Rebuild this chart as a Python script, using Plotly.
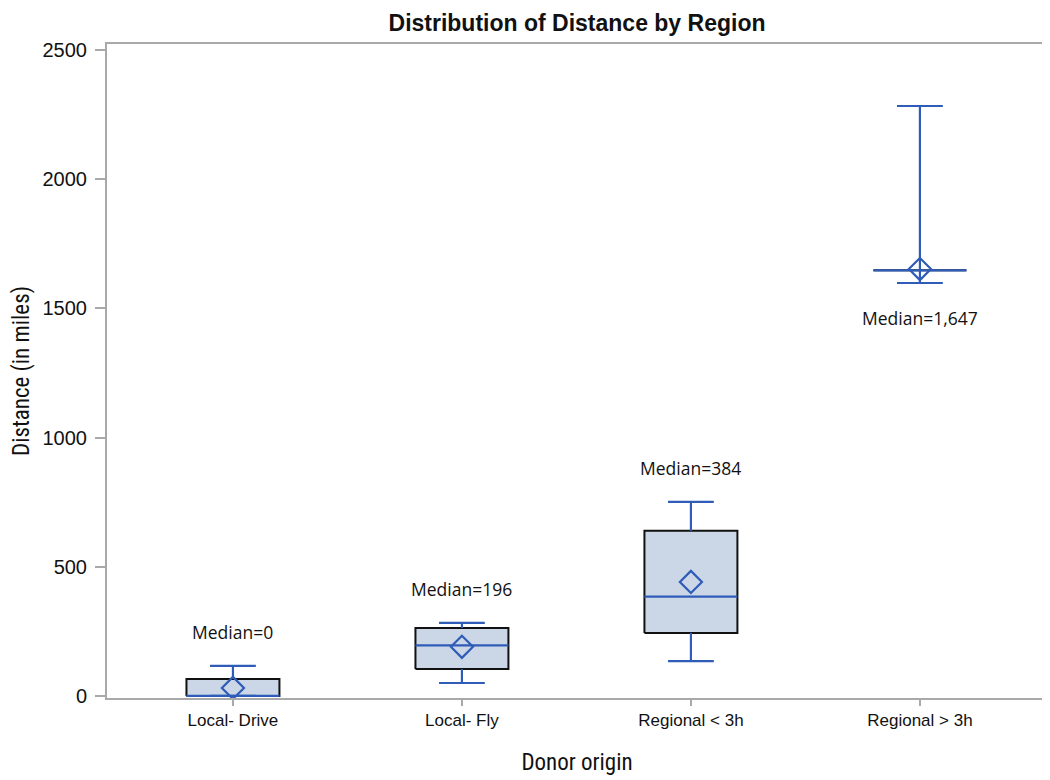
import plotly.graph_objects as go

categories = ["Local- Drive", "Local- Fly", "Regional < 3h", "Regional > 3h"]
lower_whisker = [0, 50, 135, 1598]
q1 = [0, 104, 244, 1647]
median = [0, 196, 384, 1647]
q3 = [66, 263, 639, 1647]
upper_whisker = [116, 283, 751, 2283]
mean = [31, 190, 441, 1652]
median_labels = ["Median=0", "Median=196", "Median=384", "Median=1,647"]
label_below = [False, False, False, True]

BLUE = "#2f5cb8"
FILL = "#cbd6e7"
FRAME = "#a9a9a9"
BOX_HALF = 0.203
CAP_HALF = 0.1

xs = list(range(len(categories)))

fig = go.Figure()

# box bodies
bx, by = [], []
for i in xs:
    bx += [i - BOX_HALF, i + BOX_HALF, i + BOX_HALF, i - BOX_HALF, i - BOX_HALF, None]
    by += [q1[i], q1[i], q3[i], q3[i], q1[i], None]
fig.add_trace(go.Scatter(x=bx, y=by, mode="lines", fill="toself", fillcolor=FILL,
                         line=dict(color="#111111", width=2), hoverinfo="skip", showlegend=False))

# whiskers, caps, medians
lx, ly = [], []
for i in xs:
    lx += [i, i, None, i, i, None]
    ly += [q3[i], upper_whisker[i], None, q1[i], lower_whisker[i], None]
    lx += [i - CAP_HALF, i + CAP_HALF, None, i - CAP_HALF, i + CAP_HALF, None]
    ly += [upper_whisker[i], upper_whisker[i], None, lower_whisker[i], lower_whisker[i], None]
    lx += [i - BOX_HALF, i + BOX_HALF, None]
    ly += [median[i], median[i], None]
fig.add_trace(go.Scatter(x=lx, y=ly, mode="lines", line=dict(color=BLUE, width=2.2),
                         hoverinfo="skip", showlegend=False))

# means
fig.add_trace(go.Scatter(x=xs, y=mean, mode="markers",
                         marker=dict(symbol="diamond-open", size=17, color=BLUE,
                                     line=dict(color=BLUE, width=2.2)),
                         showlegend=False))

for i in xs:
    if label_below[i]:
        fig.add_annotation(x=i, y=lower_whisker[i], text=median_labels[i], showarrow=False,
                           yshift=-35, font=dict(family="Open Sans", size=17.5, color="#111111"))
    else:
        fig.add_annotation(x=i, y=upper_whisker[i], text=median_labels[i], showarrow=False,
                           yshift=34, font=dict(family="Open Sans", size=17.5, color="#111111"))

fig.update_layout(
    width=1050, height=780,
    margin=dict(l=99, r=11, t=36, b=90, autoexpand=False),
    paper_bgcolor="white", plot_bgcolor="white",
    title=dict(text="<b>Distribution of Distance by Region</b>", x=569 / 1050, xanchor="center",
               y=1 - 15 / 780, yanchor="middle", yref="container", xref="container",
               font=dict(family="Liberation Sans, Arial", size=23, color="#111111")),
    font=dict(family="Liberation Sans, Arial", color="#111111"),
)
fig.update_xaxes(
    range=[-0.55, 3.555], tickmode="array", tickvals=xs, ticktext=categories,
    showgrid=False, zeroline=False, showline=True, mirror=True, linecolor=FRAME, linewidth=2,
    ticks="outside", ticklen=6, tickcolor=FRAME, tickwidth=2, automargin=False,
    tickfont=dict(family="Liberation Sans, Arial", size=17, color="#111111"),
    title=dict(text="Donor origin", standoff=24,
               font=dict(family="Liberation Sans Narrow, Roboto Condensed, Liberation Sans", size=23, color="#111111")),
)
fig.update_yaxes(
    range=[-8, 2523], tickvals=[0, 500, 1000, 1500, 2000, 2500],
    showgrid=False, zeroline=False, showline=True, mirror=True, linecolor=FRAME, linewidth=2,
    ticks="outside", ticklen=10, tickcolor=FRAME, tickwidth=2, ticklabelstandoff=4, automargin=False,
    tickfont=dict(family="Liberation Sans, Arial", size=20, color="#111111"),
    title=dict(text="Distance (in miles)", standoff=27,
               font=dict(family="Liberation Sans Narrow, Roboto Condensed, Liberation Sans", size=23, color="#111111")),
)

fig.write_html("out.html")
